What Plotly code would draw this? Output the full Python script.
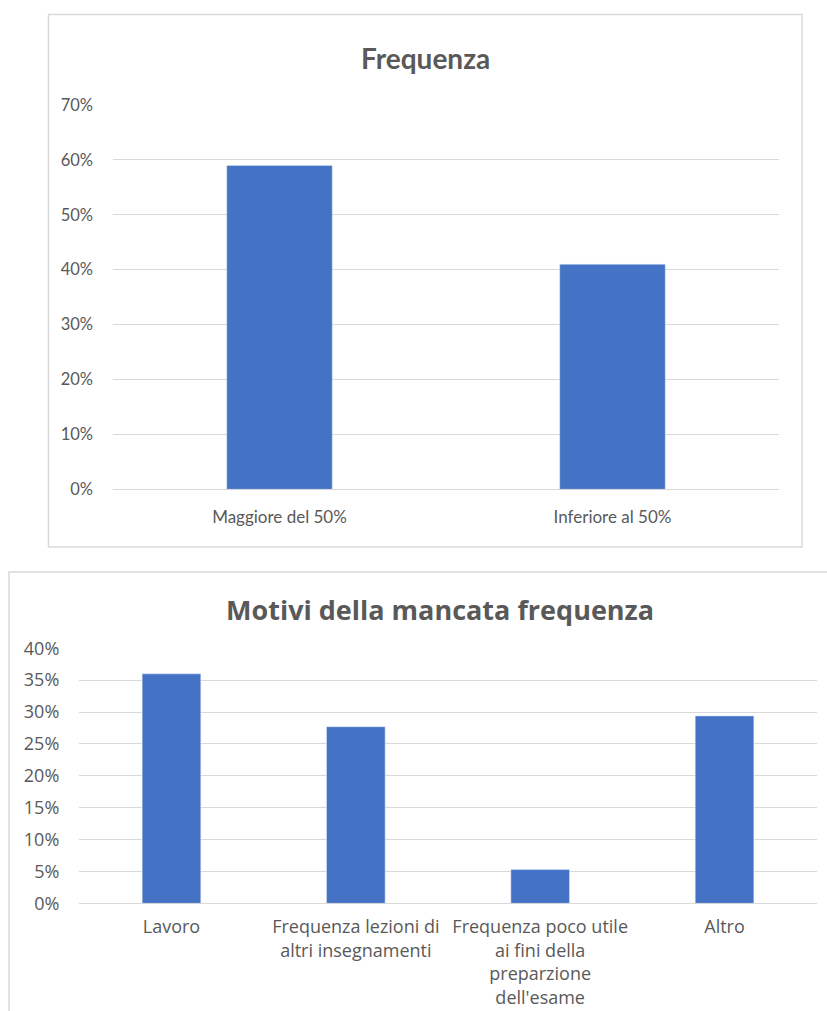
import plotly.graph_objects as go

# Chart 1: class attendance
freq_categories = ["Maggiore del 50%", "Inferiore al 50%"]
freq_values = [0.59, 0.41]
freq_ticks = [0, 0.1, 0.2, 0.3, 0.4, 0.5, 0.6, 0.7]

# Chart 2: reasons for not attending
reason_categories = [
    "Lavoro",
    "Frequenza lezioni di<br>altri insegnamenti",
    "Frequenza poco utile<br>ai fini della<br>preparzione<br>dell'esame",
    "Altro",
]
reason_values = [0.36, 0.277, 0.053, 0.294]
reason_ticks = [0, 0.05, 0.10, 0.15, 0.20, 0.25, 0.30, 0.35, 0.40]

W, H = 827, 1011
BAR = "#4472C4"
TXT = "#595959"
GRID = "#d9d9d9"


def px(x):
    return x / W


def py(y):
    return 1 - y / H


fig = go.Figure()
fig.add_trace(go.Bar(x=freq_categories, y=freq_values, marker_color=BAR,
                     width=0.317, xaxis="x", yaxis="y", hoverinfo="skip"))
fig.add_trace(go.Bar(x=reason_categories, y=reason_values, marker_color=BAR,
                     width=0.318, xaxis="x2", yaxis="y2", hoverinfo="skip"))

xfont1 = dict(family="Lato", size=17, color=TXT)
yfont1 = dict(family="Lato", size=16.5, color=TXT)
font2 = dict(family="Open Sans", size=18, color=TXT)

fig.update_layout(
    width=W, height=H,
    margin=dict(l=0, r=0, t=0, b=0, pad=0),
    paper_bgcolor="white", plot_bgcolor="white",
    showlegend=False,
    xaxis=dict(domain=[px(113), px(779)], anchor="y", showgrid=False,
               showline=False, zeroline=False, tickfont=xfont1,
               ticklabelstandoff=16, automargin=False),
    yaxis=dict(domain=[py(489.3), py(105)], anchor="x", range=[0, 0.7],
               tickvals=freq_ticks, tickformat=".0%", showgrid=True,
               gridcolor=GRID, gridwidth=1, zeroline=True, zerolinecolor=GRID,
               zerolinewidth=1, showline=False, tickfont=yfont1,
               ticklabelstandoff=19, automargin=False),
    xaxis2=dict(domain=[px(79.3), px(816.7)], anchor="y2", showgrid=False,
                showline=False, zeroline=False, tickfont=font2,
                ticklabelstandoff=11, automargin=False),
    yaxis2=dict(domain=[py(903.3), py(648.3)], anchor="x2", range=[0, 0.4],
                tickvals=reason_ticks, tickformat=".0%", showgrid=True,
                gridcolor=GRID, gridwidth=1, zeroline=True, zerolinecolor=GRID,
                zerolinewidth=1, showline=False, tickfont=font2,
                ticklabelstandoff=19, automargin=False),
    shapes=[
        dict(type="rect", xref="paper", yref="paper",
             x0=px(48.5), x1=px(802), y0=py(547), y1=py(14.5),
             line=dict(color=GRID, width=1.5), layer="below"),
        dict(type="rect", xref="paper", yref="paper",
             x0=px(9), x1=px(840), y0=py(1030), y1=py(572),
             line=dict(color=GRID, width=1.5), layer="below"),
    ],
    annotations=[
        dict(text="<b>Frequenza</b>", xref="paper", yref="paper",
             x=px(425.5), y=py(58), xanchor="center", yanchor="middle",
             showarrow=False, font=dict(family="Lato", size=28, color=TXT)),
        dict(text="<b>Motivi della mancata frequenza</b>", xref="paper",
             yref="paper", x=px(440.5), y=py(609), xanchor="center",
             yanchor="middle", showarrow=False,
             font=dict(family="Open Sans", size=27, color=TXT)),
    ],
)

fig.write_html("out.html")
